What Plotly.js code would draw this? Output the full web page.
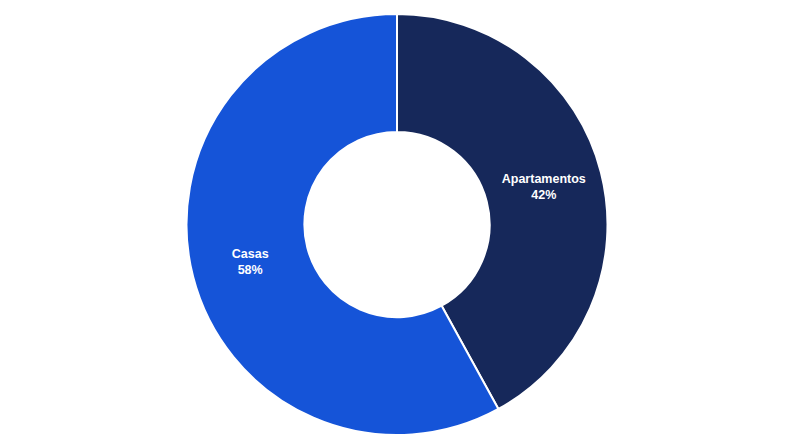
<!DOCTYPE html>
<html>
<head>
<meta charset="utf-8">
<script src="https://cdn.plot.ly/plotly-3.0.1.min.js"></script>
<style>
  html, body { margin: 0; padding: 0; background: #fff; }
  #chart { width: 794px; height: 448px; }
</style>
</head>
<body>
<div id="chart"></div>
<script>
// tipos de imovel
let labels = ['Apartamentos', 'Casas'];
let values = [42, 58];
let colors = ['#16285a', '#1554d8'];

let trace = {
  type: 'pie',
  labels: labels,
  values: values,
  hole: 0.44,
  sort: false,
  direction: 'clockwise',
  rotation: 0,
  marker: { colors: colors, line: { color: '#ffffff', width: 2 } },
  textinfo: 'label+percent',
  textposition: 'inside',
  insidetextorientation: 'horizontal',
  texttemplate: '<b>%{label}</b><br><b>%{percent:.0%}</b>',
  textfont: { family: '"Liberation Sans", Arial, sans-serif', size: 12.5, color: '#ffffff' },
  hoverinfo: 'label+percent'
};

let layout = {
  width: 794,
  height: 448,
  margin: { l: 0, r: 0, t: 14, b: 13 },
  showlegend: false,
  paper_bgcolor: '#ffffff',
  plot_bgcolor: '#ffffff'
};

Plotly.newPlot('chart', [trace], layout, { displayModeBar: false });
</script>
</body>
</html>
